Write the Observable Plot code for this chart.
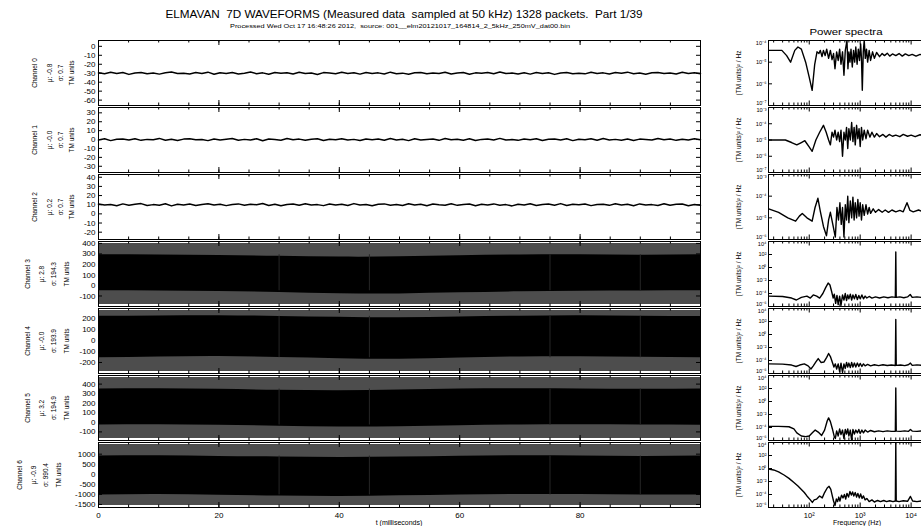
<!DOCTYPE html>
<html><head><meta charset="utf-8">
<script src="https://cdn.jsdelivr.net/npm/d3@7"></script>
<script src="https://cdn.jsdelivr.net/npm/@observablehq/plot@0.6"></script>
<style>
body{margin:0;background:#fff;overflow:hidden}
#chart{position:relative;width:921px;height:526px;overflow:hidden;background:#fff;font-family:"Liberation Sans",Arial,sans-serif}
#chart svg{position:absolute}
</style></head><body>
<div id="chart">
<svg id="titles" width="921" height="526" style="left:0;top:0;font-family:'Liberation Sans',Arial,sans-serif">
<text x="404" y="18" text-anchor="middle" font-size="10.5" textLength="477" lengthAdjust="spacingAndGlyphs" style="white-space:pre">ELMAVAN  7D WAVEFORMS (Measured data  sampled at 50 kHz) 1328 packets.  Part 1/39</text>
<text x="400" y="27.5" text-anchor="middle" font-size="5.8" textLength="340" lengthAdjust="spacingAndGlyphs" style="white-space:pre">Processed Wed Oct 17 16:48:26 2012,  source: 001__elm20121017_164814_2_5kHz_250mV_dat00.bin</text>
<text x="846" y="35" text-anchor="middle" font-size="9.5" textLength="73" lengthAdjust="spacingAndGlyphs">Power spectra</text>
<text x="399" y="524.5" text-anchor="middle" font-size="7">t (milliseconds)</text>
<text x="857" y="524.5" text-anchor="middle" font-size="7">Frequency (Hz)</text>
</svg>
</div>
<script>
// ---------- data ----------
const channels = ["Channel 0","Channel 1","Channel 2","Channel 3","Channel 4","Channel 5","Channel 6"];
const means = ["-0.8","-0.0","0.2","2.8","-0.0","3.2","-0.9"];
const sigmas = ["0.7","0.7","0.7","194.3","193.9","194.9","990.4"];
const yDomains = [[-66,6.5],[-37,36],[-28,43],[-200,418],[-300,290],[-190,490],[-1650,1580]];
const yTicks = [[0,-10,-20,-30,-40,-50,-60],[30,20,10,0,-10,-20,-30],[40,30,20,10,0,-10,-20],
  [400,300,200,100,0,-100],[200,100,0,-100,-200],[400,300,200,100,0,-100],[1000,500,0,-500,-1000,-1500]];
const timeTicks = [0,20,40,60,80];
const levels = [-30, 0, 10];
const noise0 = [0.4,-0.6,1.1,-0.2,0.8,-1.3,0.3,0.9,-0.7,0.2,-1.0,0.6,1.4,-0.4,0.1,-0.9,0.7,-0.3,1.2,-1.1,0.5,-0.2,0.9,-0.8,0.0,1.3,-0.5,0.4,-1.2,0.8,-0.1,0.6,-0.9,1.0,-0.4,0.2,-1.4,0.7,0.3,-0.6,1.1,-0.3,0.5,-1.0,0.9,-0.2,0.4,-0.8,1.2,-0.5,0.1,-1.1,0.6,0.8,-0.7,0.3,-0.3,1.0,-0.9,0.2,0.7,-1.2,0.4,-0.1,0.9,-0.6,1.3,-0.4,0.2,-0.8,0.5,-1.0,0.8,-0.2,0.6,-1.3,0.3,0.9,-0.5,0.1,-0.7,1.1,-0.3,0.4,-0.9,0.7,-0.1,1.2,-0.6,0.2,-1.1,0.5,0.8,-0.4,0.3,-0.8,1.0,-0.2,0.6,-0.5];
const noise1 = [-0.5,0.8,-1.2,0.3,0.6,-0.4,1.0,-0.9,0.2,-0.1,1.3,-0.7,0.4,-1.0,0.5,0.9,-0.3,0.1,-1.2,0.7,-0.6,0.3,1.1,-0.8,0.2,-0.4,0.9,-1.3,0.6,0.0,-0.7,1.2,-0.2,0.5,-0.9,0.3,0.8,-1.1,0.4,-0.3,1.0,-0.6,0.2,-1.0,0.7,-0.1,0.5,-0.8,1.2,-0.4,0.3,-1.2,0.9,-0.5,0.1,0.6,-0.9,1.1,-0.3,0.4,-0.7,0.8,-1.1,0.2,0.5,-0.4,1.3,-0.6,0.0,-0.9,0.7,-0.2,1.0,-1.0,0.3,0.6,-0.5,0.9,-1.2,0.4,-0.1,0.8,-0.7,1.1,-0.4,0.2,-0.8,0.6,-1.0,0.5,0.1,-0.6,1.2,-0.3,0.7,-0.9,0.3,-0.5,1.0,-0.2];
const noise2 = [0.7,-0.3,0.2,-1.1,0.9,-0.5,0.4,1.2,-0.8,0.1,-0.6,1.0,-1.3,0.5,-0.2,0.8,-0.9,0.3,1.1,-0.4,0.6,-1.0,0.2,0.9,-0.7,0.4,-0.1,1.3,-0.8,0.5,-1.2,0.3,0.7,-0.6,1.0,-0.3,0.1,-1.0,0.8,-0.4,0.6,-0.9,1.2,-0.2,0.3,-1.1,0.5,0.9,-0.6,0.2,-0.8,1.1,-0.3,0.4,-1.2,0.7,0.0,-0.5,1.0,-0.7,0.3,0.8,-1.1,0.5,-0.2,0.9,-0.6,0.1,-1.3,0.6,-0.4,1.0,-0.8,0.2,0.7,-0.5,1.2,-0.9,0.4,-0.1,0.8,-1.0,0.3,0.6,-0.7,1.1,-0.2,0.5,-1.2,0.9,-0.3,0.1,-0.8,1.0,-0.5,0.4,0.7,-1.1,0.2,-0.6];
const envT = [0,10,20,30,40,50,60,70,80,90,100];
const outerEnv = [[-182,400],[-282,272],[-170,470],[-1554,1484]];
const innerTop = [
  [292,290,285,278,270,272,282,290,292,288,292],
  [219,222,225,218,210,205,212,220,224,220,218],
  [348,352,345,335,330,338,348,352,350,345,348],
  [905,920,890,860,840,860,900,920,910,890,905]];
const innerBot = [
  [-50,-52,-58,-66,-78,-80,-70,-60,-54,-52,-50],
  [-157,-150,-145,-155,-165,-170,-160,-150,-148,-152,-157],
  [-28,-25,-30,-40,-48,-45,-35,-28,-25,-28,-30],
  [-1024,-1000,-1040,-1080,-1100,-1070,-1030,-1000,-1010,-1030,-1024]];
const glitchT = [30,45,75,90];

const specDomains = [[1e-7,1e-4],[1e-7,1e-3],[1e-6,1e-3],[1e-6,1e4],[1e-6,1e4],[1e-6,1e4],[1e-6,1e4]];
const specTicks = [[1e-4,1e-5,1e-6,1e-7],[1e-3,1e-4,1e-5,1e-6,1e-7],[1e-3,1e-4,1e-5,1e-6],
  [1e4,1e2,1,1e-2,1e-4,1e-6],[1e4,1e2,1,1e-2,1e-4,1e-6],[1e4,1e2,1,1e-2,1e-4,1e-6],[1e4,1e2,1,1e-2,1e-4,1e-6]];
const freqTicks = [100,1000,10000];
const spec0 = [[16,3.5e-5],[29,3.5e-5],[36,2e-5],[43,1e-5],[52,3.5e-5],[60,5e-5],[70,4e-5],[85,1e-5],[100,2e-6],[114,5e-7],[128,8e-6],[142,3e-5],[155,2.5e-5],[165,3.5e-5],[178,1.8e-5],[190,3.5e-5],[205,2e-5],[220,4e-5],[240,1.5e-5],[260,3.5e-5],[280,1.3e-5],[300,2.5e-5],[320,5e-6],[345,3e-5],[370,1.2e-5],[395,4e-5],[420,8e-6],[450,3e-5],[480,2.5e-6],[510,3.5e-5],[550,1e-4],[575,5e-6],[600,3e-5],[630,1e-5],[660,4e-5],[700,6e-6],[740,3.5e-5],[780,1e-5],[820,5e-5],[870,8e-6],[920,4e-5],[970,1.2e-5],[1020,7e-5],[1060,1.5e-5],[1100,5e-7],[1150,3e-5],[1200,1e-4],[1260,1.5e-5],[1330,4e-5],[1400,1e-5],[1500,3.5e-5],[1600,1.2e-5],[1750,3e-5],[1900,1.5e-5],[2100,2.8e-5],[2400,1.8e-5],[2700,2.5e-5],[3000,2e-5],[3400,2.6e-5],[3800,1.9e-5],[4300,2.4e-5],[5000,2e-5],[5800,2.5e-5],[6700,1.9e-5],[7700,2.4e-5],[9000,2e-5],[10500,2.3e-5],[12500,1.9e-5],[15000,2.3e-5],[18000,2e-5],[22000,2.2e-5],[25000,2e-5]];
const spec1 = [[16,1e-5],[34,1e-5],[45,7e-6],[57,5e-6],[70,7e-6],[82,9e-6],[98,4e-6],[114,2e-6],[135,1e-5],[160,3e-5],[190,8e-5],[215,3e-5],[240,1e-5],[260,5e-6],[280,3e-5],[300,1.5e-5],[320,4e-5],[345,1e-5],[370,3e-5],[395,8e-6],[420,4e-5],[450,1e-6],[480,3e-5],[510,1e-5],[540,6e-5],[570,3e-6],[600,5e-5],[640,1e-5],[680,1.2e-4],[720,8e-6],[760,6e-5],[800,5e-6],[850,8e-5],[900,1.2e-5],[950,5e-5],[1000,4e-6],[1060,6e-5],[1120,1e-5],[1200,4e-5],[1300,1.2e-5],[1400,4e-5],[1550,1.5e-5],[1700,3e-5],[1900,1.5e-5],[2100,2.5e-5],[2400,1.6e-5],[2800,2.2e-5],[3200,1.5e-5],[3700,2.2e-5],[4300,1.7e-5],[5000,2e-5],[6000,1.6e-5],[7000,2.2e-5],[8500,1.7e-5],[10000,2e-5],[12000,1.6e-5],[15000,2.1e-5],[19000,1.7e-5],[25000,2e-5]];
const spec2 = [[16,2.6e-5],[25,1.8e-5],[38,1e-5],[54,7e-6],[64,1.2e-5],[73,1.6e-5],[90,1e-5],[114,7e-6],[130,3e-5],[148,8e-5],[165,2e-5],[190,4e-6],[218,1.5e-6],[240,8e-6],[260,1.8e-5],[290,5e-6],[325,1.3e-6],[350,3e-5],[375,8e-6],[400,5e-5],[425,5e-6],[450,3e-5],[480,1.3e-6],[510,4e-5],[540,8e-6],[570,1e-4],[600,6e-6],[640,6e-5],[680,1e-5],[720,9e-5],[760,8e-6],[800,5e-5],[850,1e-5],[900,7e-5],[950,1.2e-5],[1000,5e-5],[1060,8e-6],[1120,4e-5],[1200,1.3e-5],[1300,4e-5],[1400,1.5e-5],[1500,3e-5],[1600,1.6e-5],[1800,2.6e-5],[2000,1.8e-5],[2300,2.4e-5],[2700,1.8e-5],[3100,2.3e-5],[3600,1.8e-5],[4200,2.3e-5],[5000,1.9e-5],[6000,2.2e-5],[7000,1.9e-5],[8300,5e-5],[9500,2.2e-5],[11000,1.9e-5],[14000,2.3e-5],[18000,1.8e-5],[25000,2.1e-5]];
const spec3 = [[16,4e-5],[30,3.5e-5],[45,2e-5],[56,1e-5],[70,2.5e-5],[90,4e-5],[105,2e-5],[120,6e-5],[140,4e-5],[160,2e-5],[185,1e-4],[210,8e-4],[235,4e-3],[255,2e-3],[275,2e-4],[295,2e-5],[310,8e-5],[330,3e-6],[350,5e-5],[370,2e-6],[395,4e-5],[420,1.5e-6],[450,6e-5],[480,1e-5],[510,1e-4],[540,8e-6],[570,6e-5],[600,1.5e-5],[640,8e-5],[680,1e-5],[720,6e-5],[770,1.5e-5],[820,7e-5],[880,1.2e-5],[940,5e-5],[1000,1.5e-5],[1080,6e-5],[1160,1.5e-5],[1250,4e-5],[1350,2e-5],[1500,3.5e-5],[1700,2e-5],[2000,3e-5],[2400,2e-5],[2900,3e-5],[3500,2.2e-5],[4200,3e-5],[4900,2.5e-5],[5000,250],[5100,2.5e-5],[6000,3e-5],[7200,2.2e-5],[8500,3e-5],[9600,7e-5],[10500,2.5e-5],[13000,3e-5],[17000,2.3e-5],[21000,3e-5],[25000,2.5e-5]];
const spec4 = [[16,3e-5],[30,2.8e-5],[45,2e-5],[55,1.2e-5],[65,2e-5],[80,3e-5],[95,1.5e-5],[108,5e-6],[120,1.5e-5],[135,6e-5],[150,2e-4],[170,5e-5],[195,6e-5],[220,3e-4],[240,1.2e-3],[260,4e-4],[285,5e-5],[305,1e-5],[325,3e-5],[345,5e-6],[370,3e-5],[395,2e-6],[420,4e-5],[450,1.5e-6],[480,3e-5],[510,6e-6],[540,5e-5],[570,1e-5],[600,4e-5],[640,8e-6],[680,5e-5],[720,1e-5],[770,4e-5],[820,1e-5],[880,4e-5],[940,1.2e-5],[1000,3.5e-5],[1080,1.2e-5],[1160,3e-5],[1250,1.5e-5],[1400,2.5e-5],[1600,1.5e-5],[1900,2.2e-5],[2300,1.6e-5],[2800,2.2e-5],[3400,1.7e-5],[4100,2e-5],[4900,1.7e-5],[5000,200],[5100,1.8e-5],[6200,2e-5],[7500,1.6e-5],[8800,2.2e-5],[9700,4e-5],[10500,1.8e-5],[13000,2.1e-5],[17000,1.7e-5],[21000,2e-5],[25000,1.8e-5]];
const spec5 = [[16,1.5e-4],[25,1.5e-4],[40,1.3e-4],[50,6e-5],[57,1.5e-5],[70,5e-6],[85,4e-6],[100,5e-6],[115,1.5e-5],[131,4e-5],[150,2e-5],[175,6e-6],[200,4e-5],[225,1e-3],[240,3e-3],[260,8e-4],[285,6e-5],[310,4e-6],[325,2e-6],[345,3e-5],[370,5e-6],[395,6e-5],[420,8e-6],[450,4e-5],[480,2e-6],[510,5e-5],[540,1e-5],[570,6e-5],[600,5e-6],[640,4e-5],[680,1e-6],[720,5e-5],[770,1e-5],[820,4e-5],[880,1.5e-5],[940,5e-5],[1000,1.2e-5],[1080,4e-5],[1160,1.5e-5],[1250,4e-5],[1400,2e-5],[1600,3.5e-5],[1900,2.2e-5],[2300,3e-5],[2800,2.3e-5],[3400,3e-5],[4100,2.5e-5],[4900,2.7e-5],[5000,120],[5100,2.8e-5],[6200,2.5e-5],[7500,3e-5],[8800,2.5e-5],[9700,5e-5],[10500,2.8e-5],[13000,2.5e-5],[17000,3e-5],[21000,2.5e-5],[25000,2.8e-5]];
const spec6 = [[16,0.8],[20,0.6],[25,0.3],[32,0.1],[40,0.03],[50,7e-3],[60,2e-3],[70,6e-4],[80,2e-4],[90,6e-5],[105,1.5e-5],[115,6e-6],[125,1.5e-5],[140,2e-5],[160,6e-5],[180,3e-5],[200,2e-4],[225,1e-3],[245,1.8e-3],[265,6e-4],[285,5e-5],[300,1e-5],[320,2e-6],[340,2e-5],[360,8e-6],[380,4e-5],[400,1e-5],[430,8e-5],[460,3e-5],[490,1e-4],[520,2e-5],[550,1.5e-4],[590,4e-5],[630,3e-4],[670,8e-5],[710,2.5e-4],[750,6e-5],[800,2e-4],[850,4e-5],[900,1.5e-4],[960,3e-5],[1020,1.2e-4],[1090,2.5e-5],[1160,6e-5],[1250,1.5e-5],[1350,2.5e-5],[1500,8e-6],[1700,1.5e-5],[1900,7e-6],[2200,1.2e-5],[2500,8e-6],[2900,1.2e-5],[3300,8e-6],[3800,1.1e-5],[4400,8e-6],[4900,1e-5],[5000,1e4],[5100,1e-5],[5800,8e-6],[7000,1.1e-5],[8500,9e-6],[9700,5e-5],[10700,1e-5],[13000,8e-6],[17000,1.1e-5],[21000,8e-6],[25000,1e-5]];
const spectra = [spec0,spec1,spec2,spec3,spec4,spec5,spec6];

// ---------- layout ----------
const chart = document.getElementById("chart");
const panelTop = [40,107,174,241,308,375,442];
const FH = 65;
const supMap = {"-":"⁻","0":"⁰","1":"¹","2":"²","3":"³","4":"⁴","5":"⁵","6":"⁶","7":"⁷","8":"⁸","9":"⁹"};
const sup = d => "10" + String(Math.round(Math.log10(d))).split("").map(c => supMap[c]).join("");
const baseStyle = {background:"transparent", overflow:"visible", maxWidth:"none", fontFamily:"'Liberation Sans',Arial,sans-serif", color:"#000"};

function place(el, left, top){ el.style.position="absolute"; el.style.left=left+"px"; el.style.top=top+"px"; chart.appendChild(el); }

function leftPanel(i){
  const last = i===6, mb = last ? 24 : 1;
  const ML = 98, FW = 602;
  const marks = [];
  if (i < 3) {
    const noise = [noise0,noise1,noise2][i], n = noise.length;
    marks.push(Plot.line(noise, {x:(d,k)=>k*100/(n-1), y:d=>levels[i]+d, stroke:"#000", strokeWidth:1.5}));
  } else {
    const j = i-3;
    const env = envT.map((t,k)=>({t, top:innerTop[j][k], bot:innerBot[j][k]}));
    marks.push(Plot.areaY(envT, {x:d=>d, y1:()=>outerEnv[j][0], y2:()=>outerEnv[j][1], fill:"#4d4d4d"}));
    marks.push(Plot.areaY(env, {x:"t", y1:"bot", y2:"top", fill:"#000", curve:"natural"}));
    marks.push(Plot.ruleX(glitchT, {x:d=>d, y1:()=>innerBot[j][0], y2:()=>innerTop[j][0], stroke:"#262626"}));
  }
  const major = d3.range(0,101,20), minor = d3.range(0,101,5);
  marks.push(Plot.tickX(major, {x:d=>d, insetBottom:FH-5, stroke:"#000"}));
  marks.push(Plot.tickX(major, {x:d=>d, insetTop:FH-5, stroke:"#000"}));
  marks.push(Plot.tickX(minor, {x:d=>d, insetBottom:FH-2.5, stroke:"#000"}));
  marks.push(Plot.tickX(minor, {x:d=>d, insetTop:FH-2.5, stroke:"#000"}));
  marks.push(Plot.tickY(yTicks[i], {y:d=>d, insetRight:FW-4, stroke:"#000"}));
  marks.push(Plot.tickY(yTicks[i], {y:d=>d, insetLeft:FW-4, stroke:"#000"}));
  marks.push(Plot.frame({stroke:"#000"}));
  const cols = i<3 ? [34,49,60,71] : i<6 ? [27,41,53,66] : [19,33,45,58];
  const texts = [channels[i], "μ: "+means[i], "σ: "+sigmas[i], "TM units"];
  texts.forEach((s,k)=>marks.push(Plot.text([s], {text:d=>d, frameAnchor:"left", textAnchor:"middle", dx:cols[k]-ML, rotate:-90, fontSize:6.5, fill:"#000"})));
  const p = Plot.plot({
    width: ML+FW+3, height: FH+1+mb, marginLeft: ML, marginRight: 3, marginTop: 1, marginBottom: mb,
    style: {...baseStyle, fontSize:"8px"},
    x: {domain:[0,100], axis: last ? "bottom" : null, ticks: timeTicks, tickSize:0, tickPadding:5, tickFormat:d=>String(d), label:null},
    y: {domain: yDomains[i], ticks: yTicks[i], tickSize:0, tickPadding:3, tickFormat:d=>String(d), label:null},
    marks
  });
  place(p, 0, panelTop[i]-1);
}

function rightPanel(i){
  const last = i===6, mb = last ? 24 : 1;
  const ML = 40, FW = 163;
  const marks = [];
  const majors = [100,1000,10000];
  const minors = [];
  for (const dec of [10,100,1000,10000]) for (let k=2;k<=9;k++){ const v=k*dec; if (v>16 && v<25000) minors.push(v); }
  marks.push(Plot.tickX(majors, {x:d=>d, insetBottom:FH-4.5, stroke:"#000"}));
  marks.push(Plot.tickX(majors, {x:d=>d, insetTop:FH-4.5, stroke:"#000"}));
  marks.push(Plot.tickX(minors, {x:d=>d, insetBottom:FH-2.5, stroke:"#000"}));
  marks.push(Plot.tickX(minors, {x:d=>d, insetTop:FH-2.5, stroke:"#000"}));
  marks.push(Plot.tickY(specTicks[i], {y:d=>d, insetRight:FW-4, stroke:"#000"}));
  marks.push(Plot.line(spectra[i], {x:d=>d[0], y:d=>d[1], stroke:"#000", strokeWidth:1.4, clip:true}));
  marks.push(Plot.frame({stroke:"#000"}));
  const ticks = specTicks[i], nT = ticks.length;
  marks.push(Plot.text(ticks.slice(1, nT-1), {y:d=>d, text:sup, frameAnchor:"left", textAnchor:"end", dx:-2, fontSize:5.6, fill:"#000"}));
  marks.push(Plot.text([ticks[0]], {y:d=>d, text:sup, frameAnchor:"left", textAnchor:"end", dx:-2, dy:2.5, fontSize:5.6, fill:"#000"}));
  marks.push(Plot.text([ticks[nT-1]], {y:d=>d, text:sup, frameAnchor:"left", textAnchor:"end", dx:-2, dy:-2.5, fontSize:5.6, fill:"#000"}));
  marks.push(Plot.text(["(TM units)² / Hz"], {text:d=>d, frameAnchor:"left", textAnchor:"middle", dx:-30, rotate:-90, fontSize:6.5, fill:"#000"}));
  const p = Plot.plot({
    width: ML+FW+2, height: FH+1+mb, marginLeft: ML, marginRight: 2, marginTop: 1, marginBottom: mb,
    style: {...baseStyle, fontSize:"7.5px"},
    x: {type:"log", domain:[15.85,25119], axis: last ? "bottom" : null, ticks: freqTicks, tickFormat: sup, tickSize:0, tickPadding:5, label:null},
    y: {type:"log", domain: specDomains[i], axis: null},
    marks
  });
  place(p, 728, panelTop[i]-1);
}

for (let i=0;i<7;i++){ leftPanel(i); rightPanel(i); }
</script>
</body></html>
